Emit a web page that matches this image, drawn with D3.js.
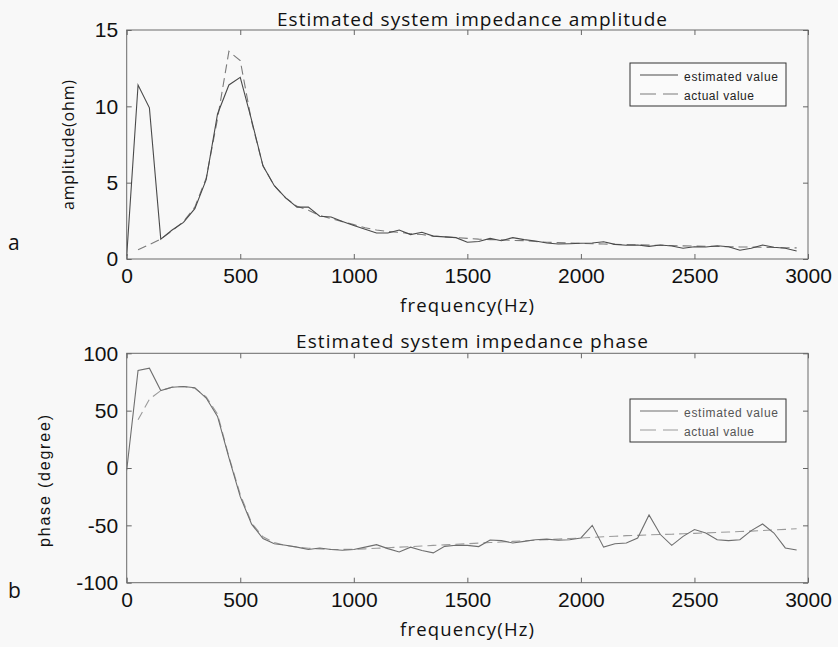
<!DOCTYPE html>
<html>
<head>
<meta charset="utf-8">
<script src="https://cdn.jsdelivr.net/npm/d3@7"></script>
<style>
  html, body { margin: 0; padding: 0; background: #f8f8f8; }
  svg { display: block; }
</style>
</head>
<body>
<svg id="chart" width="838" height="647"></svg>
<script>
// Frequency grid (Hz)
const frequency = [0, 50, 100, 150, 200, 250, 300, 350, 400, 450, 500, 550, 600, 650, 700, 750, 800, 850, 900, 950,
  1000, 1050, 1100, 1150, 1200, 1250, 1300, 1350, 1400, 1450, 1500, 1550, 1600, 1650, 1700, 1750, 1800, 1850, 1900, 1950,
  2000, 2050, 2100, 2150, 2200, 2250, 2300, 2350, 2400, 2450, 2500, 2550, 2600, 2650, 2700, 2750, 2800, 2850, 2900, 2950];

// Impedance amplitude (ohm)
const amplitudeEstimated = [0.2, 11.4, 9.9, 1.3, 1.9, 2.4, 3.3, 5.2, 9.5, 11.4, 11.9, 9.1, 6.1, 4.8, 4.0, 3.4, 3.4, 2.8, 2.75, 2.45,
  2.2, 1.95, 1.7, 1.7, 1.9, 1.6, 1.75, 1.5, 1.45, 1.4, 1.1, 1.15, 1.35, 1.2, 1.4, 1.27, 1.18, 1.05, 0.98, 1.0,
  1.03, 1.05, 1.13, 0.96, 0.9, 0.92, 0.83, 0.92, 0.85, 0.7, 0.8, 0.79, 0.87, 0.8, 0.57, 0.7, 0.92, 0.77, 0.7, 0.52];
const amplitudeActual = [null, 0.6, 0.95, 1.3, 1.85, 2.45, 3.4, 5.3, 9.2, 13.6, 13.0, 9.0, 6.1, 4.8, 4.0, 3.45, 3.2, 2.85, 2.65, 2.45,
  2.25, 2.05, 1.9, 1.8, 1.75, 1.65, 1.6, 1.5, 1.45, 1.4, 1.35, 1.3, 1.27, 1.25, 1.22, 1.2, 1.15, 1.1, 1.07, 1.05,
  1.03, 1.0, 0.98, 0.96, 0.95, 0.93, 0.91, 0.9, 0.88, 0.86, 0.85, 0.83, 0.82, 0.8, 0.79, 0.78, 0.77, 0.75, 0.74, 0.73];

// Impedance phase (degree)
const phaseEstimated = [-2, 85, 87, 67.5, 70.4, 71, 70, 61, 45, 9, -25, -49, -61.5, -66, -67.4, -69, -71, -69.7, -71, -71.7,
  -71, -69, -66.8, -70.3, -73.2, -69, -72, -74, -68.3, -67.4, -67.5, -68.5, -62.8, -63.3, -65.4, -64, -62.5, -62, -63, -62.5,
  -61, -50, -69, -66, -65.4, -61, -41, -58, -67.4, -59.6, -53.7, -56.7, -62.5, -63.3, -62.5, -54.6, -48.8, -56.7, -69.7, -71.5];
const phaseActual = [null, 42, 60, 67.5, 70.5, 71, 69.5, 62, 47, 10, -23, -48, -60, -65, -67.5, -69, -70, -70.5, -71, -71,
  -70.8, -70.5, -70, -69.5, -69, -68.5, -68, -67.5, -67, -66.5, -66, -65.5, -65, -64.5, -64, -63.5, -63, -62.5, -62, -61.5,
  -61, -60.5, -60, -59.5, -59, -58.7, -58.3, -58, -57.7, -57.3, -57, -56.6, -56.2, -55.8, -55.4, -55, -54.5, -54, -53.5, -53];

// Axis ticks
const freqTicks = [0, 500, 1000, 1500, 2000, 2500, 3000];
const amplitudeTicks = [0, 5, 10, 15];
const phaseTicks = [-100, -50, 0, 50, 100];

const svg = d3.select("#chart");
const left = 126.7, right = 808;
const tickFont = "Liberation Sans, Arial, sans-serif";
const textFont = "Open Sans, DejaVu Sans, sans-serif";
const plainNumber = d => String(d);   // hyphen-minus, as printed on the axes

function panel(cfg) {
  const x = d3.scaleLinear().domain([0, 3000]).range([left, right]);
  const y = d3.scaleLinear().domain(cfg.yDomain).range([cfg.bottom, cfg.top]);
  const g = svg.append("g");

  const clipId = "clip-" + cfg.id;
  svg.append("clipPath").attr("id", clipId)
    .append("rect").attr("x", left).attr("y", cfg.top)
    .attr("width", right - left).attr("height", cfg.bottom - cfg.top);

  // axes box
  g.append("rect")
    .attr("x", left).attr("y", cfg.top)
    .attr("width", right - left).attr("height", cfg.bottom - cfg.top)
    .attr("fill", "none").attr("stroke", "#6a6a6a").attr("stroke-width", 1);

  const styleAxis = (sel, showText) => {
    sel.select(".domain").remove();
    sel.selectAll(".tick line").attr("stroke", "#666");
    sel.selectAll(".tick text")
      .attr("fill", "#111")
      .style("font-family", tickFont)
      .style("font-size", "21px");
    if (!showText) sel.selectAll(".tick text").remove();
  };

  g.append("g").attr("transform", `translate(0,${cfg.bottom})`)
    .call(d3.axisBottom(x).tickValues(freqTicks).tickFormat(plainNumber).tickSizeInner(-5).tickSizeOuter(0).tickPadding(9))
    .call(s => styleAxis(s, true));
  g.append("g").attr("transform", `translate(0,${cfg.top})`)
    .call(d3.axisTop(x).tickValues(freqTicks).tickSizeInner(-5).tickSizeOuter(0))
    .call(s => styleAxis(s, false));
  g.append("g").attr("transform", `translate(${left},0)`)
    .call(d3.axisLeft(y).tickValues(cfg.yTicks).tickFormat(plainNumber).tickSizeInner(-5).tickSizeOuter(0).tickPadding(8.5))
    .call(s => styleAxis(s, true));
  g.append("g").attr("transform", `translate(${right},0)`)
    .call(d3.axisRight(y).tickValues(cfg.yTicks).tickSizeInner(-5).tickSizeOuter(0))
    .call(s => styleAxis(s, false));

  const line = d3.line()
    .defined(d => d[1] !== null)
    .x(d => x(d[0])).y(d => y(d[1]));

  const plot = g.append("g").attr("clip-path", `url(#${clipId})`);
  plot.append("path")
    .datum(frequency.map((f, i) => [f, cfg.actual[i]]))
    .attr("d", line).attr("fill", "none")
    .attr("stroke", cfg.actualColor).attr("stroke-width", 1.1)
    .attr("stroke-dasharray", "9,5");
  plot.append("path")
    .datum(frequency.map((f, i) => [f, cfg.estimated[i]]))
    .attr("d", line).attr("fill", "none")
    .attr("stroke", cfg.estColor).attr("stroke-width", 1.1);

  // title
  g.append("text")
    .attr("x", 472).attr("y", cfg.titleY)
    .attr("text-anchor", "middle")
    .attr("textLength", cfg.titleLen).attr("lengthAdjust", "spacing")
    .style("font-family", textFont).style("font-size", "19px").attr("fill", "#111")
    .text(cfg.title);

  // x label
  g.append("text")
    .attr("x", 467).attr("y", cfg.bottom + 53)
    .attr("text-anchor", "middle")
    .attr("textLength", 134).attr("lengthAdjust", "spacing")
    .style("font-family", textFont).style("font-size", "18.5px").attr("fill", "#111")
    .text("frequency(Hz)");

  // y label
  g.append("text")
    .attr("transform", `translate(${cfg.yLabelX},${cfg.yLabelY}) rotate(-90)`)
    .attr("text-anchor", "middle")
    .attr("textLength", cfg.yLabelLen).attr("lengthAdjust", "spacing")
    .style("font-family", cfg.yLabelFont).style("font-size", "16px").attr("fill", "#111")
    .text(cfg.yLabel);

  // panel letter
  g.append("text")
    .attr("x", 8).attr("y", cfg.letterY)
    .style("font-family", textFont).style("font-size", "21px").attr("fill", "#111")
    .text(cfg.letter);

  // legend
  const lg = g.append("g");
  lg.append("rect")
    .attr("x", 630).attr("y", cfg.legendTop)
    .attr("width", 156).attr("height", 43)
    .attr("fill", "#fafafa").attr("stroke", "#333").attr("stroke-width", 1);
  const items = [
    { label: "estimated value", color: cfg.estColor, dash: null, len: 94 },
    { label: "actual value", color: cfg.actualColor, dash: "16,7", len: 70 }
  ];
  items.forEach((it, i) => {
    const ly = cfg.legendTop + 12 + i * 19;
    lg.append("line")
      .attr("x1", 640).attr("x2", 678).attr("y1", ly).attr("y2", ly)
      .attr("stroke", it.color).attr("stroke-width", 1.1)
      .attr("stroke-dasharray", it.dash);
    lg.append("text")
      .attr("x", 684).attr("y", ly + 5.5)
      .attr("textLength", it.len).attr("lengthAdjust", "spacing")
      .style("font-family", tickFont).style("font-size", "12px").attr("fill", cfg.legendText)
      .text(it.label);
  });
}

panel({
  id: "amp", top: 30, bottom: 259, yDomain: [0, 15], yTicks: amplitudeTicks,
  estimated: amplitudeEstimated, actual: amplitudeActual,
  estColor: "#4a4a4a", actualColor: "#7a7a7a",
  title: "Estimated system impedance amplitude", titleY: 26, titleLen: 390,
  yLabel: "amplitude(ohm)", yLabelX: 74, yLabelY: 145, yLabelLen: 130, yLabelFont: textFont,
  letter: "a", letterY: 250, legendTop: 63, legendText: "#222"
});

panel({
  id: "phase", top: 353.3, bottom: 582.7, yDomain: [-100, 100], yTicks: phaseTicks,
  estimated: phaseEstimated, actual: phaseActual,
  estColor: "#6e6e6e", actualColor: "#9a9a9a",
  title: "Estimated system impedance phase", titleY: 348, titleLen: 352,
  yLabel: "phase (degree)", yLabelX: 50, yLabelY: 481, yLabelLen: 132, yLabelFont: tickFont,
  letter: "b", letterY: 598, legendTop: 399, legendText: "#555"
});
</script>
</body>
</html>
